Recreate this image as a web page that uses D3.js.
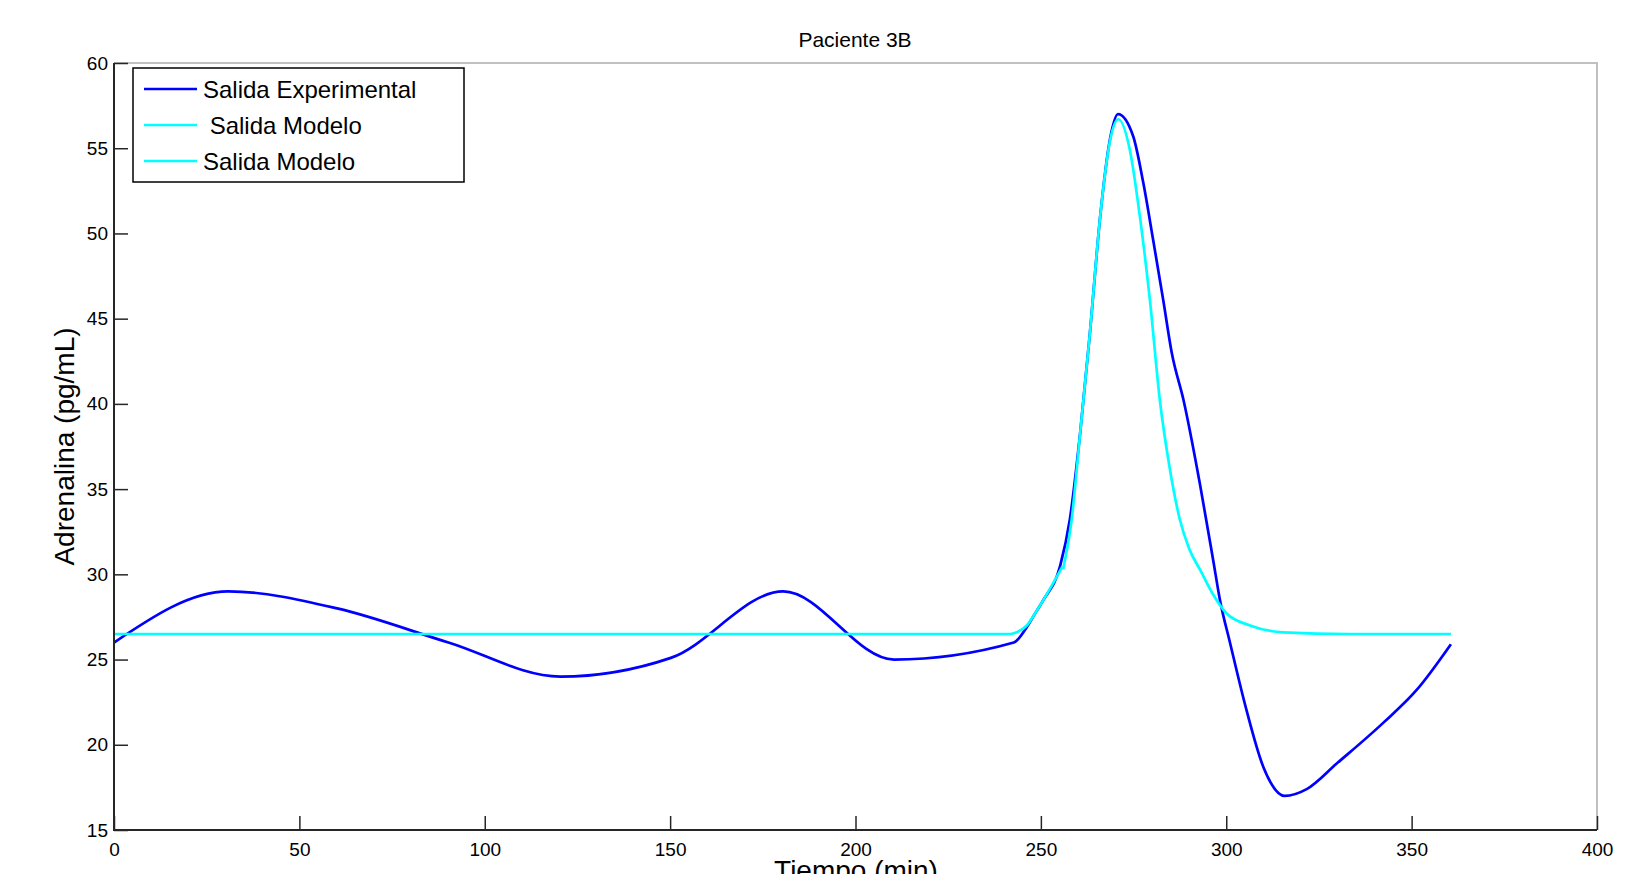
<!DOCTYPE html>
<html>
<head>
<meta charset="utf-8">
<script src="https://cdn.jsdelivr.net/npm/d3@7"></script>
<style>
  body { margin: 0; background: #fff; overflow: hidden; }
  text { font-family: "Liberation Sans", Arial, sans-serif; fill: #000; }
</style>
</head>
<body>
<script>
var w = 1630;
var h = 874;
var margin = {top: 63, right: 33, bottom: 44, left: 114};

// Salida Experimental (tiempo, adrenalina)
var expTime = [0, 30.8, 60.2, 90.2, 120.4, 150.2, 180.5, 210.4, 242.7, 246.2, 248.7, 250.7, 255.2, 257.8, 260.6, 263.2, 266.0, 268.7, 270.8,
               274.9, 277.6, 280.3, 283.0, 285.3, 288.5, 292.9, 296.5, 298.3, 301.0, 305.5, 310.0, 315.8, 321.7, 329.8, 342.4, 351.3, 360.6];
var expValue = [26, 29, 28, 26, 24, 25.1, 29, 25, 26, 26.9, 27.8, 28.5, 30.5, 33.2, 38.3, 44.1, 51, 55.6, 57,
                55.7, 53, 49.6, 46.1, 43, 40.2, 35.3, 30.8, 28.5, 26, 22, 18.7, 17, 17.4, 18.9, 21.3, 23.2, 25.9];

// Salida Modelo, primer tramo
var mod1Time = [0, 241.7, 243.5, 246.2, 248.7, 250.7, 255.8];
var mod1Value = [26.5, 26.5, 26.6, 27.0, 27.8, 28.5, 30.45];

// Salida Modelo, segundo tramo
var mod2Time = [256.0, 258.3, 260.6, 263.2, 266.0, 268.7, 270.9, 274.0, 276.7, 279.4, 282.1, 284.7, 287.5, 290.0, 293.1, 296.5, 300.1, 306.4, 315.3, 333.2, 360.6];
var mod2Value = [30.3, 33.2, 38.3, 44.1, 51, 55.5, 56.7, 54.9, 51, 46.1, 40.2, 36.3, 33.2, 31.5, 30.2, 28.8, 27.7, 27.0, 26.6, 26.5, 26.5];

var xTicks = [0, 50, 100, 150, 200, 250, 300, 350, 400];
var yTicks = [15, 20, 25, 30, 35, 40, 45, 50, 55, 60];
var legendLabels = ["Salida Experimental", " Salida Modelo", "Salida Modelo"];
var seriesColors = ["#0000ff", "#00ffff", "#00ffff"];

function zip(t, v) {
    return t.map(function (d, i) { return {t: d, v: v[i]}; });
}
var series = [zip(expTime, expValue), zip(mod1Time, mod1Value), zip(mod2Time, mod2Value)];

var svg = d3.select("body").append("svg")
    .attr("width", w)
    .attr("height", h);

var xScale = d3.scaleLinear().domain([0, 400]).range([margin.left, w - margin.right]);
var yScale = d3.scaleLinear().domain([15, 60]).range([h - margin.bottom, margin.top]);

var x0 = xScale(0), x1 = xScale(400), y0 = yScale(15), y1 = yScale(60);

// top and right border (light)
svg.append("path")
    .attr("d", "M" + x0 + "," + y1 + "H" + x1 + "V" + y0)
    .attr("fill", "none")
    .attr("stroke", "#c0c0c0")
    .attr("stroke-width", 2);

// lines
var line = d3.line()
    .x(function (d) { return xScale(d.t); })
    .y(function (d) { return yScale(d.v); })
    .curve(d3.curveMonotoneX);

svg.selectAll("path.serie")
    .data(series)
    .enter()
    .append("path")
    .attr("class", "serie")
    .attr("d", line)
    .attr("fill", "none")
    .attr("stroke", function (d, i) { return seriesColors[i]; })
    .attr("stroke-width", 2.7)
    .attr("stroke-linejoin", "round");

// axes
var xaxis = d3.axisBottom(xScale)
    .tickValues(xTicks)
    .tickSizeInner(-14)
    .tickSizeOuter(0)
    .tickPadding(9);

var yaxis = d3.axisLeft(yScale)
    .tickValues(yTicks)
    .tickSizeInner(-14)
    .tickSizeOuter(0)
    .tickPadding(6);

var gx = svg.append("g")
    .attr("transform", "translate(0," + y0 + ")")
    .call(xaxis);
var gy = svg.append("g")
    .attr("transform", "translate(" + x0 + ",0)")
    .call(yaxis);

[gx, gy].forEach(function (g) {
    g.select(".domain").remove();
    g.selectAll(".tick line").attr("stroke", "#262626").attr("stroke-width", 1.5);
    g.selectAll(".tick text")
        .attr("font-size", "19px")
        .attr("font-family", "'Liberation Sans', Arial, sans-serif")
        .attr("fill", "#000");
});
gx.selectAll(".tick text").attr("dy", "0.9em");

// left and bottom axis lines (dark)
svg.append("path")
    .attr("d", "M" + x0 + "," + y1 + "V" + y0 + "H" + x1)
    .attr("fill", "none")
    .attr("stroke", "#262626")
    .attr("stroke-width", 2);

// title
svg.append("text")
    .attr("x", 855)
    .attr("y", 47)
    .attr("text-anchor", "middle")
    .attr("font-size", "21px")
    .text("Paciente 3B");

// axis labels
svg.append("text")
    .attr("transform", "translate(74," + ((y0 + y1) / 2) + ") rotate(-90)")
    .attr("text-anchor", "middle")
    .attr("font-size", "28px")
    .text("Adrenalina (pg/mL)");

svg.append("text")
    .attr("x", 856)
    .attr("y", 880)
    .attr("text-anchor", "middle")
    .attr("font-size", "28px")
    .text("Tiempo (min)");

// legend
var legend = svg.append("g").attr("transform", "translate(133,68)");
legend.append("rect")
    .attr("width", 331)
    .attr("height", 114)
    .attr("fill", "#fff")
    .attr("stroke", "#000")
    .attr("stroke-width", 1.5);

var items = legend.selectAll("g.item")
    .data(legendLabels)
    .enter()
    .append("g")
    .attr("class", "item")
    .attr("transform", function (d, i) { return "translate(0," + (21 + i * 36) + ")"; });

items.append("line")
    .attr("x1", 11)
    .attr("x2", 64)
    .attr("stroke", function (d, i) { return seriesColors[i]; })
    .attr("stroke-width", 2.7);

items.append("text")
    .attr("x", 70)
    .attr("y", 9)
    .attr("font-size", "24px")
    .style("white-space", "pre")
    .text(function (d) { return d; });
</script>
</body>
</html>
